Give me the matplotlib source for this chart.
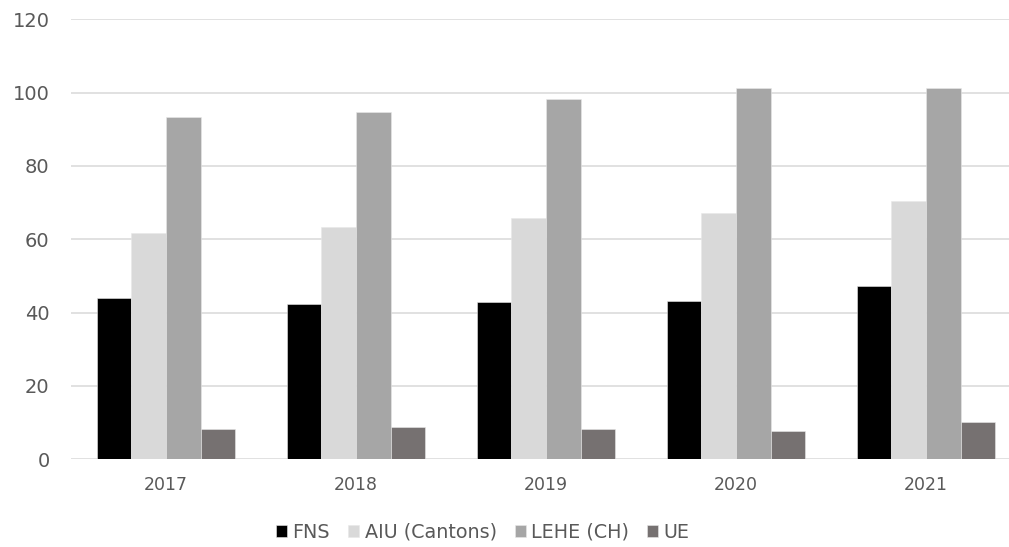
import matplotlib
matplotlib.use("Agg")
import matplotlib.pyplot as plt
import numpy as np

# values
years = ["2017", "2018", "2019", "2020", "2021"]
fns = [44.1, 42.3, 42.8, 43.2, 47.3]
aiu = [61.8, 63.4, 65.7, 67.1, 70.4]
lehe = [93.4, 94.6, 98.2, 101.2, 101.4]
ue = [8.2, 8.7, 8.3, 7.6, 10.1]

series_names = ["FNS", "AIU (Cantons)", "LEHE (CH)", "UE"]
series_colors = ["#000000", "#d9d9d9", "#a6a6a6", "#767171"]
y_ticks = [0, 20, 40, 60, 80, 100, 120]

text_color = "#595959"

fig = plt.figure(figsize=(10.09, 5.47), dpi=100)
ax = fig.add_axes([0.0704, 0.1603, 0.9296, 0.8044])

x = np.arange(len(years))
w = 0.1825
all_series = [fns, aiu, lehe, ue]
for k, (vals, name, col) in enumerate(zip(all_series, series_names, series_colors)):
    offs = (k - 1.5) * w
    ax.bar(x + offs, vals, width=w, color=col, label=name,
           edgecolor="#e8e8e8", linewidth=0.4, zorder=3)

ax.set_xlim(-0.5, 4.437)
ax.set_ylim(0, 120)
ax.set_xticks(x)
ax.set_xticklabels(years)
ax.set_yticks(y_ticks)

ax.grid(axis="y", color="#d9d9d9", linewidth=1.1, zorder=0)
ax.set_axisbelow(True)
for s in ["top", "right", "left", "bottom"]:
    ax.spines[s].set_visible(False)

ax.tick_params(axis="x", length=0, pad=12, labelsize=12.5, labelcolor=text_color)
ax.tick_params(axis="y", length=0, pad=15.5, labelsize=14, labelcolor=text_color)

leg = fig.legend(loc="center", bbox_to_anchor=(483 / 1009, 0.027), ncol=4,
                 frameon=False, fontsize=13.8, handlelength=0.55, handleheight=0.55,
                 handletextpad=0.3, columnspacing=0.95, borderaxespad=0)
for t in leg.get_texts():
    t.set_color(text_color)

fig.savefig("out.png", dpi=100)
